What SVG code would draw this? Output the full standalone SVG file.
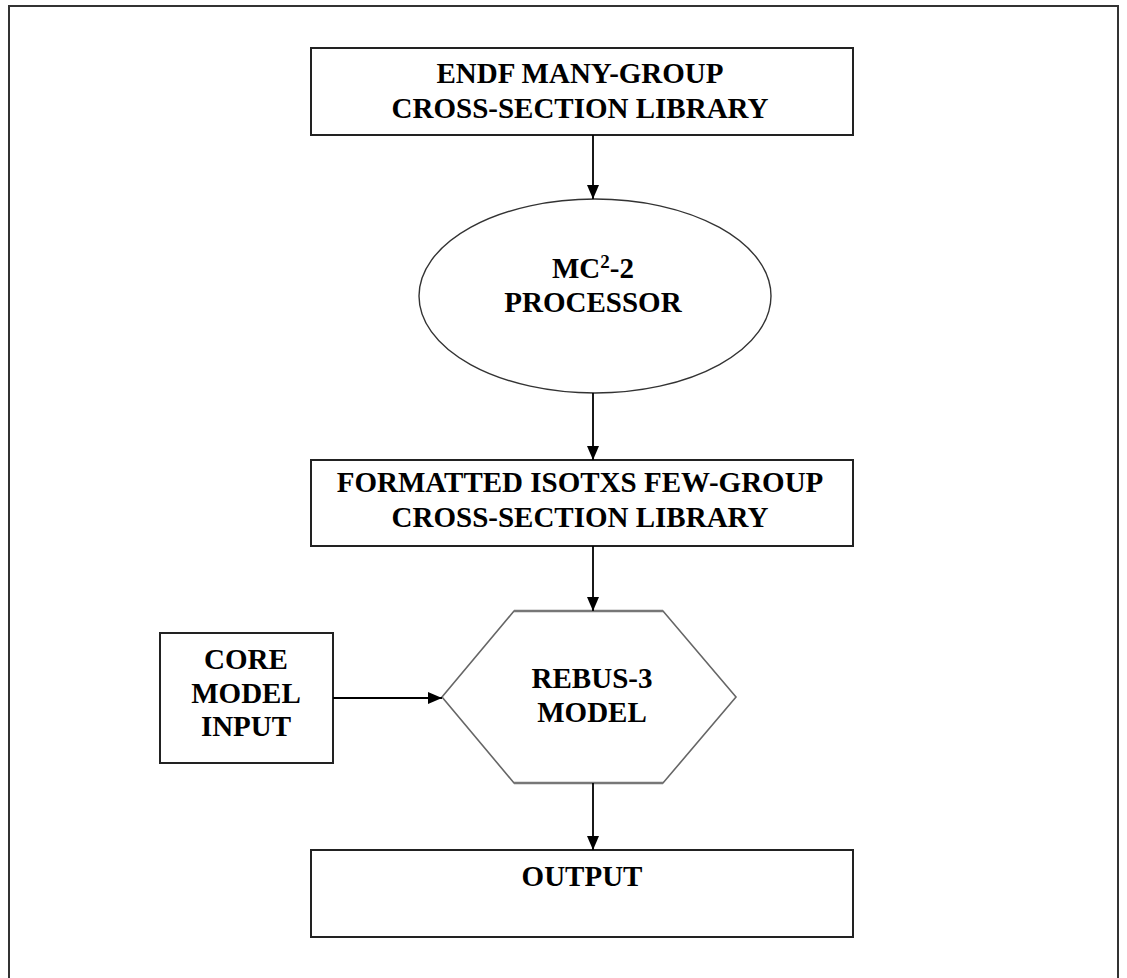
<svg xmlns="http://www.w3.org/2000/svg" width="1127" height="978" viewBox="0 0 1127 978">
<style>
.box{fill:#fff;stroke:#222;stroke-width:2}
.ell{fill:#fff;stroke:#333;stroke-width:1.4}
.hex{fill:#fff;stroke:#666;stroke-width:1.6}
.lbl{font-family:"Liberation Serif","Times New Roman",serif;font-weight:bold;font-size:29px;fill:#000;text-anchor:middle}
.con{stroke:#000;stroke-width:1.8;fill:none;marker-end:url(#ah)}
</style>
<defs>
<marker id="ah" viewBox="0 0 14 12" refX="14" refY="6" markerWidth="14" markerHeight="12" markerUnits="userSpaceOnUse" orient="auto">
<path d="M0,0 L14,6 L0,12 Z" fill="#000"/>
</marker>
</defs>
<rect width="1127" height="978" fill="#fff"/>
<path d="M9,985 L9,6 L1118,6 L1118,985" fill="none" stroke="#333" stroke-width="2"/>
<g id="endf">
<rect class="box" x="311" y="48" width="542" height="87"/>
<text class="lbl" x="580" y="83">ENDF MANY-GROUP</text>
<text class="lbl" x="580" y="118">CROSS-SECTION LIBRARY</text>
</g>
<g id="mc2">
<ellipse class="ell" cx="595" cy="296" rx="176" ry="97"/>
<text class="lbl" x="593" y="278">MC<tspan font-size="19" dy="-10">2</tspan><tspan dy="10">-2</tspan></text>
<text class="lbl" x="593" y="312">PROCESSOR</text>
</g>
<g id="isotxs">
<rect class="box" x="311" y="460" width="542" height="86"/>
<text class="lbl" x="580" y="492">FORMATTED ISOTXS FEW-GROUP</text>
<text class="lbl" x="580" y="527">CROSS-SECTION LIBRARY</text>
</g>
<g id="core">
<rect class="box" x="160" y="633" width="173" height="130"/>
<text class="lbl" x="246" y="669">CORE</text>
<text class="lbl" x="246" y="703">MODEL</text>
<text class="lbl" x="246" y="736">INPUT</text>
</g>
<g id="rebus">
<polygon class="hex" points="514,611 663,611 736,697 663,783 514,783 442,697"/>
<path d="M514,611 L663,611 M514,783 L663,783" stroke="#777" stroke-width="2.4"/>
<text class="lbl" x="592" y="688">REBUS-3</text>
<text class="lbl" x="592" y="722">MODEL</text>
</g>
<g id="output">
<rect class="box" x="311" y="850" width="542" height="87"/>
<text class="lbl" x="582" y="886">OUTPUT</text>
</g>
<g id="connectors">
<line class="con" x1="593" y1="135" x2="593" y2="199"/>
<line class="con" x1="593" y1="393" x2="593" y2="460"/>
<line class="con" x1="593" y1="546" x2="593" y2="611"/>
<line class="con" x1="333" y1="698" x2="442" y2="698"/>
<line class="con" x1="593" y1="783" x2="593" y2="850"/>
</g>
</svg>
